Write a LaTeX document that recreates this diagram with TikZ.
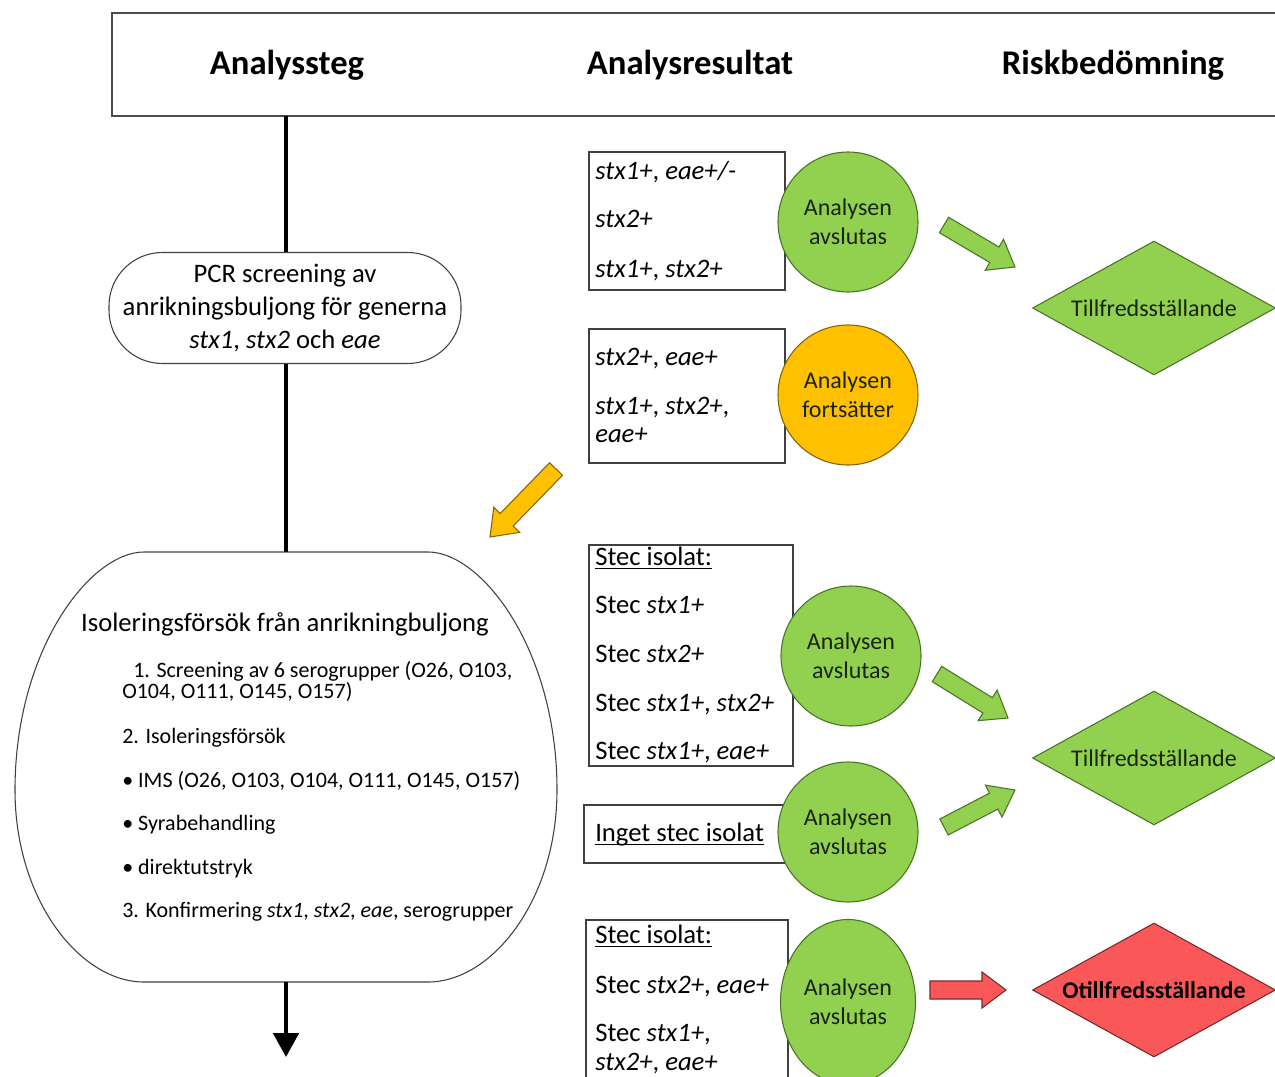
\documentclass[tikz,border=0pt]{standalone}
\usepackage{fontspec}
\setmainfont{Carlito}
\usetikzlibrary{shapes.geometric,shapes.misc,calc,arrows.meta}
\definecolor{gfill}{RGB}{146,208,80}
\definecolor{gdraw}{RGB}{75,115,40}
\definecolor{ofill}{RGB}{255,192,0}
\definecolor{odraw}{RGB}{130,100,10}
\definecolor{rfill}{RGB}{250,88,88}
\definecolor{rdraw}{RGB}{120,40,40}
\definecolor{gtext}{RGB}{25,35,15}
\newcommand\myul[1]{\setbox0\hbox{#1}\rlap{\rule[-2.8pt]{\wd0}{0.9pt}}\box0}
% block arrow from tail #1 to tip #2, style #3
\newcommand\blockarrow[3]{%
 \coordinate (#1h) at ($(#2)!18pt!(#1)$);
 \draw[barrow,#3] ($(#1)!6.75pt!90:(#2)$) -- ($(#1h)!6.75pt!90:(#2)$) -- ($(#1h)!13.5pt!90:(#2)$)
   -- (#2) -- ($(#1h)!13.5pt!-90:(#2)$) -- ($(#1h)!6.75pt!-90:(#2)$) -- ($(#1)!6.75pt!-90:(#2)$) -- cycle;}
\tikzset{
 px/.style 2 args={minimum width=#1*0.75pt, minimum height=#2*0.75pt},
 hdr/.style={font=\fontsize{26}{30}\selectfont\bfseries, anchor=base, inner sep=0},
 frame/.style={draw=black!70, line width=1.2pt},
 vline/.style={line width=3pt, black},
 pcrbox/.style={rectangle, rounded corners=40pt, draw=black!75, line width=0.8pt, fill=white, align=center, font=\fontsize{20}{24.75}\selectfont, inner sep=0},
 resbox/.style={draw=black!75, line width=0.8pt, fill=white, inner sep=0},
 restxt/.style={font=\fontsize{20}{24}\selectfont, anchor=base west, inner sep=0},
 isotxt/.style={font=\fontsize{16.5}{20}\selectfont, anchor=base west, inner sep=0},
 gcirc/.style={circle, draw=gdraw, line width=0.8pt, fill=gfill, px={140}{140}, align=center, text=gtext, font=\fontsize{18}{21.5}\selectfont, inner sep=0},
 ocirc/.style={gcirc, draw=odraw, fill=ofill},
 gdiam/.style={diamond, draw=gdraw, line width=0.8pt, fill=gfill, px={243}{134}, aspect=1.8, inner sep=0, text=gtext, font=\fontsize{18}{21}\selectfont},
 rdiam/.style={gdiam, draw=rdraw, fill=rfill, font=\fontsize{18}{21}\selectfont\bfseries, text=black},
 barrow/.style={draw=gdraw, line width=0.8pt, fill=gfill, line join=miter},
 oarrow/.style={draw=odraw, fill=ofill},
 rarrow/.style={draw=rdraw, fill=rfill},
}
\begin{document}
\begin{tikzpicture}[x=0.75pt,y=-0.75pt]
\useasboundingbox (0,0) rectangle (1275,1077);
\clip (0,0) rectangle (1275,1077);
% header
\draw[frame] (112,13) rectangle (1290,116);
\coordinate (hdrbot) at (286,116);
\node[hdr] (h1) at (287,75) {Analyssteg};
\node[hdr] (h2) at (690,75) {Analysresultat};
\node[hdr] (h3) at (1113,75) {Riskbedömning};
% left column
\node[pcrbox, px={352}{111}] (pcr) at (285,308) {PCR screening av\\anrikningsbuljong för generna\\\textit{stx1}, \textit{stx2} och \textit{eae}};
\node[px={540}{430}, inner sep=0] (iso) at (286,767) {};
\draw[draw=black!75, line width=0.8pt, fill=white]
  (144,552) -- (428,552) .. controls (482,552) and (557,650) .. (557,790)
  .. controls (557,900) and (492,982) .. (428,982)
  -- (144,982) .. controls (80,982) and (15,900) .. (15,790)
  .. controls (15,650) and (90,552) .. (144,552) -- cycle;
\node[font=\fontsize{20}{24}\selectfont, anchor=base, inner sep=0] (isot) at (285,631) {Isoleringsförsök från anrikningbuljong};
\node[isotxt] (i1) at (133,677) {1. Screening av 6 serogrupper (O26, O103,};
\node[isotxt] (i2) at (122,698) {O104, O111, O145, O157)};
\node[isotxt] (i3) at (122,743) {2. Isoleringsförsök};
\node[isotxt] (i4) at (122,787) {• IMS (O26, O103, O104, O111, O145, O157)};
\node[isotxt] (i5) at (122,830) {• Syrabehandling};
\node[isotxt] (i6) at (122,874) {• direktutstryk};
\node[isotxt] (i7) at (122,917) {3. Konfirmering \textit{stx1}, \textit{stx2}, \textit{eae}, serogrupper};
\coordinate (endpt) at (286,1057);
\draw[vline] (hdrbot) -- (hdrbot |- pcr.north);
\draw[vline] (hdrbot |- pcr.south) -- (iso.north);
\draw[vline,-{Triangle[width=19pt,length=18pt]}] (iso.south) -- (endpt);
% result boxes
\node[resbox, px={196}{138}] (b1) at (687,221) {};
\node[restxt] (t11) at (595,180) {\textit{stx1+}, \textit{eae+/-}};
\node[restxt] (t12) at (595,228) {\textit{stx2+}};
\node[restxt] (t13) at (595,277) {\textit{stx1+}, \textit{stx2+}};
\node[resbox, px={196}{134}] (b2) at (687,396) {};
\node[restxt] (t21) at (595,365) {\textit{stx2+}, \textit{eae+}};
\node[restxt] (t22) at (595,414) {\textit{stx1+}, \textit{stx2+},};
\node[restxt] (t23) at (595,442) {\textit{eae+}};
\node[resbox, px={204}{221}] (b3) at (691,655.5) {};
\node[restxt] (t31) at (595,565) {\myul{Stec isolat:}};
\node[restxt] (t32) at (595,613) {Stec \textit{stx1+}};
\node[restxt] (t33) at (595,662) {Stec \textit{stx2+}};
\node[restxt] (t34) at (595,711) {Stec \textit{stx1+}, \textit{stx2+}};
\node[restxt] (t35) at (595,759) {Stec \textit{stx1+}, \textit{eae+}};
\node[resbox, px={206}{58}] (b4) at (687,834) {};
\node[restxt] (t41) at (595,841) {\myul{Inget stec isolat}};
\node[resbox, px={202}{180}] (b5) at (687,1010) {};
\node[restxt] (t51) at (595,943) {\myul{Stec isolat:}};
\node[restxt] (t52) at (595,993) {Stec \textit{stx2+}, \textit{eae+}};
\node[restxt] (t53) at (595,1041) {Stec \textit{stx1+},};
\node[restxt] (t54) at (595,1070) {\textit{stx2+}, \textit{eae+}};
% circles
\node[gcirc] (c1) at (848,222) {Analysen\\avslutas};
\node[ocirc] (c2) at (848,395) {Analysen\\fortsätter};
\node[gcirc] (c3) at (851,656) {Analysen\\avslutas};
\node[gcirc] (c4) at (848,832) {Analysen\\avslutas};
\node[gcirc, ellipse, px={135}{165}] (c5) at (848,1002) {Analysen\\avslutas};
% diamonds
\node[gdiam] (d1) at (1154,308) {Tillfredsställande};
\node[gdiam] (d2) at (1154,758) {Tillfredsställande};
\node[rdiam] (d3) at (1154,990) {Otillfredsställande};
% block arrows
\coordinate (a1s) at (944,225); \coordinate (a1e) at (1015,267);
\coordinate (a2s) at (556,469); \coordinate (a2e) at (490,537);
\coordinate (a3s) at (937,674); \coordinate (a3e) at (1008,718);
\coordinate (a4s) at (944,827); \coordinate (a4e) at (1015,790);
\coordinate (a5s) at (930,990); \coordinate (a5e) at (1006,990);
\blockarrow{a1s}{a1e}{}
\blockarrow{a2s}{a2e}{oarrow}
\blockarrow{a3s}{a3e}{}
\blockarrow{a4s}{a4e}{}
\blockarrow{a5s}{a5e}{rarrow}
\end{tikzpicture}
\end{document}
